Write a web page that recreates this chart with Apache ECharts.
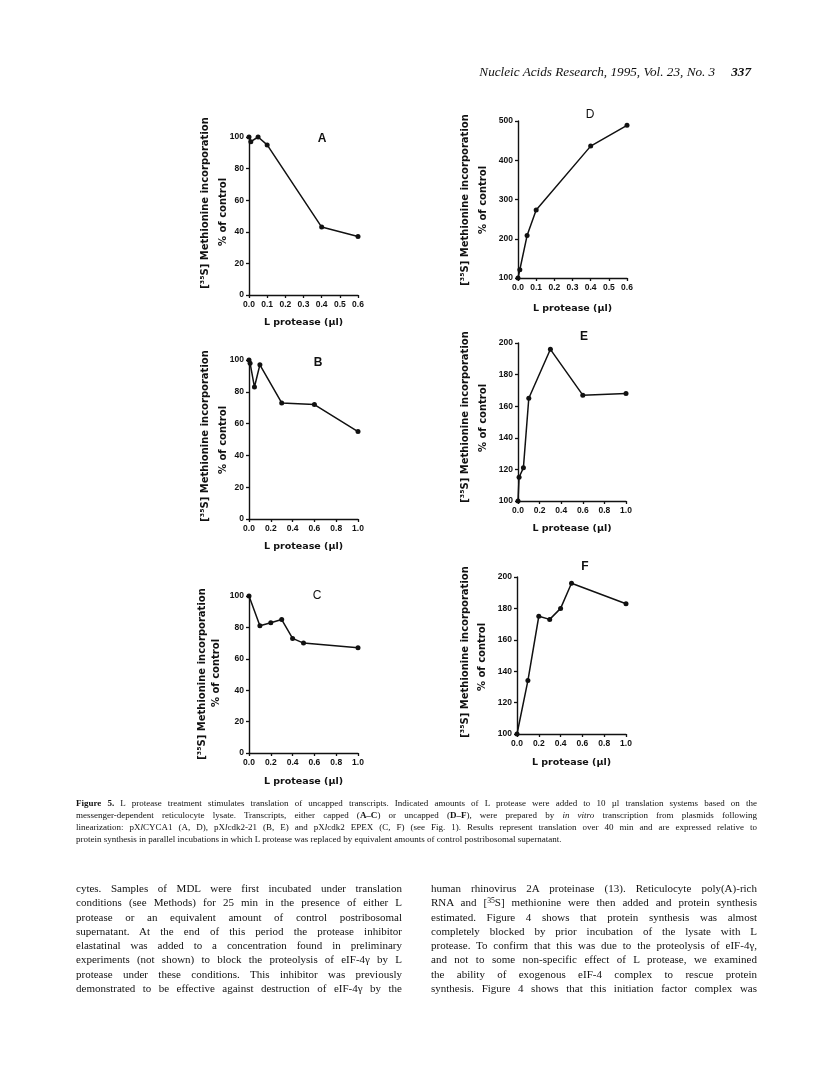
<!DOCTYPE html>
<html>
<head>
<meta charset="utf-8">
<script src="https://cdn.jsdelivr.net/npm/echarts@6/dist/echarts.min.js"></script>
<style>
  html, body { margin: 0; padding: 0; background: #fff; }
  body { width: 816px; height: 1075px; position: relative; overflow: hidden; }
  #chart { position: absolute; left: 0; top: 0; width: 816px; height: 1075px; }
  .txt { position: absolute; color: #111; font-family: "Liberation Serif", "Times New Roman", serif; pointer-events: none; }
  .ln { text-align: justify; text-align-last: justify; white-space: normal; overflow: visible; height: 1em; }
  .last { text-align-last: left; }
  #header { left: 420px; top: 64px; width: 331px; font-size: 13.2px; font-style: italic; text-align: right; }
  #header b { margin-left: 16px; }
  #caption { left: 76px; top: 797px; width: 681px; font-size: 9px; line-height: 12px; }
  #caption .ln { height: 12px; }
  .col { top: 881px; font-size: 11px; line-height: 14.3px; }
  .col .ln { height: 14.3px; }
  #colL { left: 76px; width: 326px; }
  #colR { left: 431px; width: 326px; }
  sup { font-size: 0.7em; line-height: 0; vertical-align: 0.45em; }
</style>
</head>
<body>
<div id="chart"></div>

<div id="header" class="txt">Nucleic Acids Research, 1995, Vol. 23, No. 3<b>337</b></div>

<div id="caption" class="txt">
  <div class="ln"><b>Figure 5.</b> L protease treatment stimulates translation of uncapped transcripts. Indicated amounts of L protease were added to 10 µl translation systems based on the</div>
  <div class="ln">messenger-dependent reticulocyte lysate. Transcripts, either capped (<b>A–C</b>) or uncapped (<b>D–F</b>), were prepared by <i>in vitro</i> transcription from plasmids following</div>
  <div class="ln">linearization: pX<i>l</i>CYCA1 (A, D), pX<i>l</i>cdk2-21 (B, E) and pX<i>l</i>cdk2 EPEX (C, F) (see Fig. 1). Results represent translation over 40 min and are expressed relative to</div>
  <div class="ln last">protein synthesis in parallel incubations in which L protease was replaced by equivalent amounts of control postribosomal supernatant.</div>
</div>

<div id="colL" class="txt col">
  <div class="ln">cytes. Samples of MDL were first incubated under translation</div>
  <div class="ln">conditions (see Methods) for 25 min in the presence of either L</div>
  <div class="ln">protease or an equivalent amount of control postribosomal</div>
  <div class="ln">supernatant. At the end of this period the protease inhibitor</div>
  <div class="ln">elastatinal was added to a concentration found in preliminary</div>
  <div class="ln">experiments (not shown) to block the proteolysis of eIF-4γ by L</div>
  <div class="ln">protease under these conditions. This inhibitor was previously</div>
  <div class="ln">demonstrated to be effective against destruction of eIF-4γ by the</div>
</div>

<div id="colR" class="txt col">
  <div class="ln">human rhinovirus 2A proteinase (13). Reticulocyte poly(A)-rich</div>
  <div class="ln">RNA and [<sup>35</sup>S] methionine were then added and protein synthesis</div>
  <div class="ln">estimated. Figure 4 shows that protein synthesis was almost</div>
  <div class="ln">completely blocked by prior incubation of the lysate with L</div>
  <div class="ln">protease. To confirm that this was due to the proteolysis of eIF-4γ,</div>
  <div class="ln">and not to some non-specific effect of L protease, we examined</div>
  <div class="ln">the ability of exogenous eIF-4 complex to rescue protein</div>
  <div class="ln">synthesis. Figure 4 shows that this initiation factor complex was</div>
</div>

<script>
// ---------------- DATA ----------------
var panelLabels = ['A', 'B', 'C', 'D', 'E', 'F'];

var xA = [0, 0.01, 0.05, 0.1, 0.4, 0.6];
var yA = [100, 97, 100, 95, 43, 37];

var xB = [0, 0.01, 0.05, 0.1, 0.3, 0.6, 1.0];
var yB = [100, 98, 83, 97, 73, 72, 55];

var xC = [0, 0.1, 0.2, 0.3, 0.4, 0.5, 1.0];
var yC = [100, 81, 83, 85, 73, 70, 67];

var xD = [0, 0.01, 0.05, 0.1, 0.4, 0.6];
var yD = [100, 121, 208, 273, 436, 489];

var xE = [0, 0.01, 0.05, 0.1, 0.3, 0.6, 1.0];
var yE = [100, 115, 121, 165, 196, 167, 168];

var xF = [0, 0.1, 0.2, 0.3, 0.4, 0.5, 1.0];
var yF = [100, 134, 175, 173, 180, 196, 183];

// axis ranges (tick labels)
var xRangeShort = { min: 0, max: 0.6, interval: 0.1 };
var xRangeLong  = { min: 0, max: 1.0, interval: 0.2 };
var yRangePct   = { min: 0, max: 100, interval: 20 };
var yRangeD     = { min: 100, max: 500, interval: 100 };
var yRangeEF    = { min: 100, max: 200, interval: 20 };

var xTitle = 'L protease (µl)';
var yTitle1 = '[³⁵S] Methionine incorporation';
var yTitle2 = '% of control';

// --------------- LAYOUT (styles) ----------------
var panels = [
  { x: xA, y: yA, xr: xRangeShort, yr: yRangePct, grid: { left: 249, top: 137, width: 109, height: 158 }, gap: 23,
    lab: [322, 139, 'bold'], t1: [205, 203], t2: [223, 212] },
  { x: xB, y: yB, xr: xRangeLong, yr: yRangePct, grid: { left: 249, top: 360, width: 109, height: 159 }, gap: 23,
    lab: [318, 363, 'bold'], t1: [205, 436], t2: [223, 440] },
  { x: xC, y: yC, xr: xRangeLong, yr: yRangePct, grid: { left: 249, top: 596, width: 109, height: 157 }, gap: 24,
    lab: [317, 596, 'normal'], t1: [202, 674], t2: [216, 673] },
  { x: xD, y: yD, xr: xRangeShort, yr: yRangeD, grid: { left: 518, top: 121, width: 109, height: 157 }, gap: 26,
    lab: [590, 115, 'normal'], t1: [465, 200], t2: [483, 200] },
  { x: xE, y: yE, xr: xRangeLong, yr: yRangeEF, grid: { left: 518, top: 343, width: 108, height: 158 }, gap: 23,
    lab: [584, 337, 'bold'], t1: [465, 417], t2: [483, 418] },
  { x: xF, y: yF, xr: xRangeLong, yr: yRangeEF, grid: { left: 517, top: 577, width: 109, height: 157 }, gap: 24,
    lab: [585, 567, 'bold'], t1: [465, 652], t2: [482, 657] }
];

var tickFont = { fontFamily: 'Liberation Sans', fontWeight: 'bold', fontSize: 8.5, color: '#111' };
var titleFont = 'bold 10px "DejaVu Sans"';

var grids = [], xAxes = [], yAxes = [], series = [], graphics = [];

panels.forEach(function (p, i) {
  grids.push(Object.assign({ containLabel: false }, p.grid));
  var axLine = { show: true, lineStyle: { color: '#111', width: 1.4 } };
  var axTick = { show: true, inside: false, length: 3, lineStyle: { color: '#111', width: 1.3 } };
  xAxes.push({
    type: 'value', gridIndex: i, min: p.xr.min, max: p.xr.max, interval: p.xr.interval,
    axisLine: axLine, axisTick: axTick, splitLine: { show: false },
    axisLabel: Object.assign({ margin: 5, formatter: function (v) { return v.toFixed(1); } }, tickFont),
    name: xTitle, nameLocation: 'middle', nameGap: p.gap,
    nameTextStyle: { fontFamily: 'DejaVu Sans', fontWeight: 'bold', fontSize: 9.5, color: '#111' }
  });
  yAxes.push({
    type: 'value', gridIndex: i, min: p.yr.min, max: p.yr.max, interval: p.yr.interval,
    axisLine: axLine, axisTick: axTick, splitLine: { show: false },
    axisLabel: Object.assign({ margin: 5, formatter: function (v) { return String(Math.round(v)); } }, tickFont)
  });
  series.push({
    type: 'line', xAxisIndex: i, yAxisIndex: i,
    data: p.x.map(function (xv, k) { return [xv, p.y[k]]; }),
    symbol: 'circle', symbolSize: 5, showSymbol: true,
    lineStyle: { color: '#111', width: 1.5 }, itemStyle: { color: '#111' },
    silent: true, animation: false
  });
  graphics.push({
    type: 'text', x: p.lab[0], y: p.lab[1],
    style: { text: panelLabels[i], font: p.lab[2] + ' 12px "Liberation Sans"', fill: '#111',
             textAlign: 'center', textVerticalAlign: 'middle', align: 'center', verticalAlign: 'middle' }
  });
  graphics.push({
    type: 'text', x: p.t1[0], y: p.t1[1], rotation: Math.PI / 2,
    style: { text: yTitle1, font: titleFont, fill: '#111',
             textAlign: 'center', textVerticalAlign: 'middle', align: 'center', verticalAlign: 'middle' }
  });
  graphics.push({
    type: 'text', x: p.t2[0], y: p.t2[1], rotation: Math.PI / 2,
    style: { text: yTitle2, font: titleFont, fill: '#111',
             textAlign: 'center', textVerticalAlign: 'middle', align: 'center', verticalAlign: 'middle' }
  });
});

var chart = echarts.init(document.getElementById('chart'), null, { renderer: 'canvas' });
chart.setOption({
  animation: false,
  backgroundColor: '#fff',
  grid: grids,
  xAxis: xAxes,
  yAxis: yAxes,
  series: series,
  graphic: graphics
});
</script>
</body>
</html>
